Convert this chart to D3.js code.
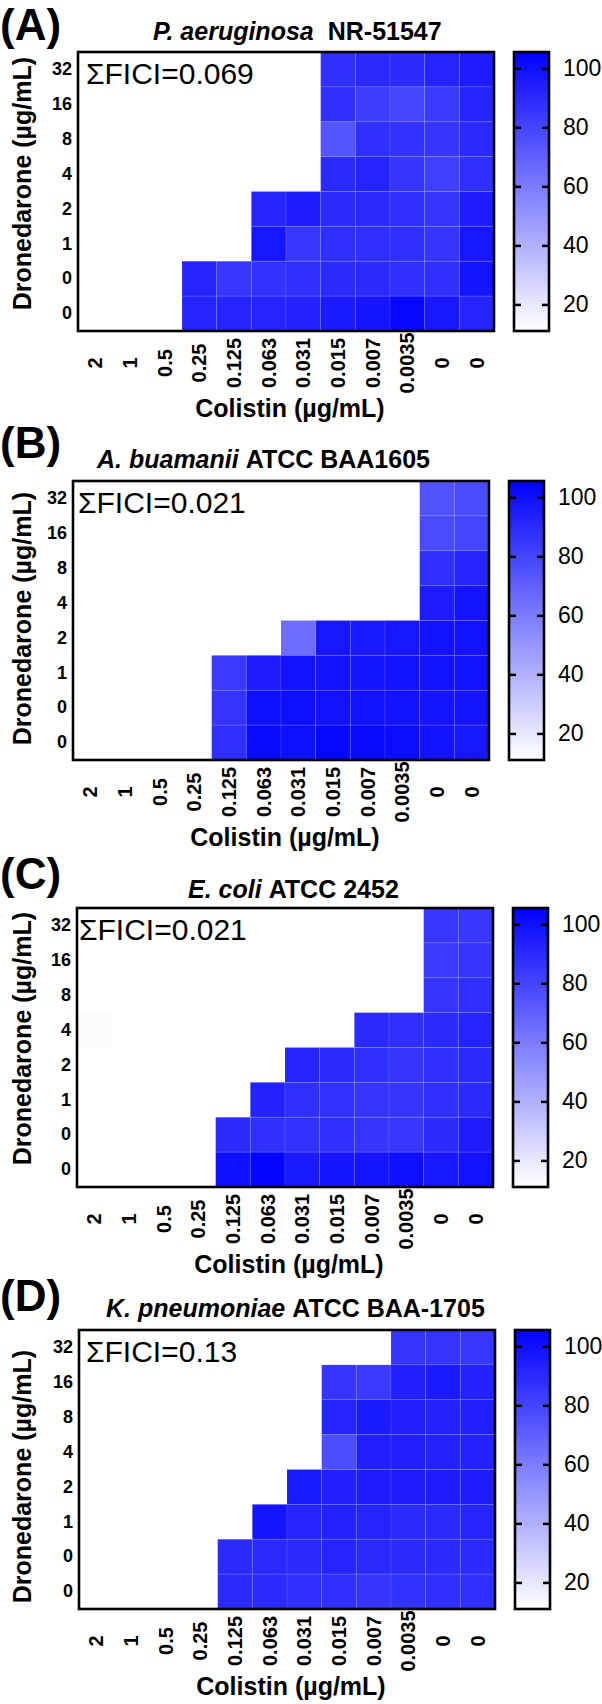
<!DOCTYPE html>
<html>
<head lang="en">
	<meta charset="UTF-8">
	<title>Checkerboard heatmaps</title>
	<style>
	body { margin: 0; background: #fff; }
	text { font-family: "Liberation Sans", Arial, Helvetica, sans-serif; }
	.frame { fill: none; stroke: #000; stroke-width: 2.6; }
	.axis path { display: none; }
	</style>
	<script src="https://cdn.jsdelivr.net/npm/d3@7"></script>
</head>
<body>
<script>
	// tick labels
	var colistin = ["2", "1", "0.5", "0.25", "0.125", "0.063", "0.031", "0.015", "0.007", "0.0035", "0", "0"];
	var dronedarone = ["32", "16", "8", "4", "2", "1", "0", "0"];
	var legendTicks = [20, 40, 60, 80, 100];
	var legendDomain = [11, 105.5];

	// % growth, rows top (32) to bottom (0), null = empty well
	var _ = null;
	var growthA = [
		[_, _, _, _, _, _, _, 88, 90, 90, 92, 95],
		[_, _, _, _, _, _, _, 88, 83, 80, 84, 92],
		[_, _, _, _, _, _, _, 74, 88, 87, 86, 90],
		[_, _, _, _, _, _, _, 90, 92, 86, 82, 88],
		[_, _, _, _, _, 92, 95, 90, 90, 88, 86, 95],
		[_, _, _, _, _, 97, 85, 88, 88, 88, 86, 97],
		[_, _, _, 92, 85, 87, 88, 90, 90, 88, 88, 98],
		[_, _, _, 92, 92, 92, 93, 96, 98, 103, 97, 92]
	];
	var growthB = [
		[_, _, _, _, _, _, _, _, _, _, 75, 78],
		[_, _, _, _, _, _, _, _, _, _, 78, 80],
		[_, _, _, _, _, _, _, _, _, _, 88, 92],
		[_, _, _, _, _, _, _, _, _, _, 95, 98],
		[_, _, _, _, _, _, 65, 97, 96, 97, 99, 99],
		[_, _, _, _, 84, 95, 99, 99, 98, 99, 99, 99],
		[_, _, _, _, 86, 100, 100, 99, 99, 99, 98, 98],
		[_, _, _, _, 88, 102, 100, 103, 102, 101, 99, 97]
	];
	var growthC = [
		[_, _, _, _, _, _, _, _, _, _, 85, 85],
		[_, _, _, _, _, _, _, _, _, _, 84, 86],
		[_, _, _, _, _, _, _, _, _, _, 86, 88],
		[12, _, _, _, _, _, _, _, 90, 88, 90, 92],
		[_, _, _, _, _, _, 92, 90, 88, 86, 88, 90],
		[_, _, _, _, _, 93, 88, 87, 86, 86, 88, 90],
		[_, _, _, _, 90, 88, 87, 88, 86, 85, 90, 95],
		[_, _, _, _, 100, 104, 96, 98, 98, 100, 97, 99]
	];
	var growthD = [
		[_, _, _, _, _, _, _, _, _, 86, 86, 85],
		[_, _, _, _, _, _, _, 86, 84, 94, 96, 93],
		[_, _, _, _, _, _, _, 92, 96, 94, 93, 94],
		[_, _, _, _, _, _, _, 77, 94, 94, 93, 93],
		[_, _, _, _, _, _, 96, 94, 95, 95, 95, 95],
		[_, _, _, _, _, 98, 92, 93, 92, 90, 90, 92],
		[_, _, _, _, 90, 90, 90, 92, 90, 90, 90, 90],
		[_, _, _, _, 90, 90, 88, 88, 86, 87, 88, 88]
	];

	var panelLetters = ["(A)", "(B)", "(C)", "(D)"];
	var species = ["P. aeruginosa", "A. buamanii", "E. coli", "K. pneumoniae"];
	var strains = ["NR-51547", "ATCC BAA1605", "ATCC 2452", "ATCC BAA-1705"];
	var fici = ["0.069", "0.021", "0.021", "0.13"];
	var growth = [growthA, growthB, growthC, growthD];

	// where each panel sits on the page
	var layout = [
		{left: 78, top: 52, letterY: 40, titleX: 153, titleY: 40, ficiX: 86, yTitleTop: 57},
		{left: 73, top: 481, letterY: 458, titleX: 97, titleY: 468, ficiX: 78, yTitleTop: 492},
		{left: 77, top: 908, letterY: 889, titleX: 188, titleY: 898, ficiX: 79, yTitleTop: 912},
		{left: 79, top: 1330, letterY: 1311, titleX: 106, titleY: 1317, ficiX: 86, yTitleTop: 1350}
	];

	var width = 602, height = 1704;
	var mapW = 416, mapH = 279;

	var color = d3.scaleLinear()
		.domain(legendDomain)
		.range(["#ffffff", "#0000ff"])
		.clamp(true);

	var svg = d3.select("body").append("svg")
		.attr("width", width)
		.attr("height", height);

	// gradient for the legend bars
	var grad = svg.append("defs").append("linearGradient")
		.attr("id", "legendGrad")
		.attr("x1", 0).attr("y1", 1).attr("x2", 0).attr("y2", 0);
	grad.selectAll("stop")
		.data(d3.range(0, 1.01, 0.1))
		.enter().append("stop")
		.attr("offset", function(t){ return t; })
		.attr("stop-color", function(t){ return color(legendDomain[0] + t * (legendDomain[1] - legendDomain[0])); });

	layout.forEach(function(p, k){
		var g = svg.append("g");
		var right = p.left + mapW, bottom = p.top + mapH;

		var x = d3.scaleBand().domain(d3.range(colistin.length)).range([p.left, right]);
		var y = d3.scaleBand().domain(d3.range(dronedarone.length)).range([p.top, bottom]);

		// panel letter
		g.append("text")
			.attr("x", 0).attr("y", p.letterY)
			.attr("font-size", 44).attr("font-weight", "bold")
			.text(panelLetters[k]);

		// title: italic species + strain
		var t = g.append("text")
			.attr("x", p.titleX).attr("y", p.titleY)
			.attr("font-size", 25).attr("font-weight", "bold");
		t.append("tspan").attr("font-style", "italic").text(species[k]);
		t.append("tspan").attr("dx", k == 0 ? 14 : 7).text(strains[k]);

		// cells
		var cells = [];
		growth[k].forEach(function(row, r){
			row.forEach(function(v, c){
				if (v !== null) cells.push({r: r, c: c, v: v});
			});
		});
		g.selectAll("rect.cell")
			.data(cells)
			.enter().append("rect")
			.attr("class", "cell")
			.attr("x", function(d){ return x(d.c); })
			.attr("y", function(d){ return y(d.r); })
			.attr("width", x.bandwidth())
			.attr("height", y.bandwidth())
			.attr("fill", function(d){ return color(d.v); })
			.attr("stroke", "rgba(255,255,255,0.1)")
			.attr("stroke-width", 1);

		g.append("rect")
			.attr("class", "frame")
			.attr("x", p.left).attr("y", p.top)
			.attr("width", mapW).attr("height", mapH);

		g.append("text")
			.attr("x", p.ficiX).attr("y", p.top + 32)
			.attr("font-size", 30)
			.text("\u03A3FICI=" + fici[k]);

		// y axis
		var ya = g.append("g")
			.attr("class", "axis")
			.attr("transform", "translate(" + p.left + ",0)")
			.call(d3.axisLeft(y).tickSize(0).tickPadding(6).tickFormat(function(i){ return dronedarone[i]; }));
		ya.selectAll("text")
			.attr("font-size", 18).attr("font-weight", "bold").attr("fill", "#000")
			.attr("font-family", null);

		// x axis, labels turned and centred under each column
		var xa = g.append("g")
			.attr("class", "axis")
			.attr("transform", "translate(0," + bottom + ")")
			.call(d3.axisBottom(x).tickSize(0).tickFormat(function(i){ return colistin[i]; }));
		xa.selectAll("text")
			.attr("x", 0).attr("y", 0).attr("dy", "0.35em")
			.attr("text-anchor", "middle")
			.attr("transform", "translate(0,32) rotate(-90)")
			.attr("font-size", 20).attr("font-weight", "bold").attr("fill", "#000")
			.attr("font-family", null);

		g.append("text")
			.attr("x", (p.left + right) / 2 + 4).attr("y", bottom + 86)
			.attr("text-anchor", "middle")
			.attr("font-size", 25).attr("font-weight", "bold")
			.text("Colistin (\u00B5g/mL)");

		g.append("text")
			.attr("transform", "translate(31," + p.yTitleTop + ") rotate(-90)")
			.attr("text-anchor", "end")
			.attr("font-size", 25).attr("font-weight", "bold")
			.text("Dronedarone (\u00B5g/mL)");

		// legend bar
		var lx = right + 20, lw = 35;
		var ly = d3.scaleLinear().domain(legendDomain).range([bottom, p.top]);
		g.append("rect")
			.attr("x", lx).attr("y", p.top)
			.attr("width", lw).attr("height", mapH)
			.attr("fill", "url(#legendGrad)");
		var la = g.append("g")
			.attr("transform", "translate(" + (lx + lw) + ",0)")
			.call(d3.axisRight(ly).tickValues(legendTicks).tickSize(-7).tickPadding(14));
		la.select(".domain").remove();
		la.selectAll("line").attr("stroke-width", 2.5);
		la.selectAll("text").attr("font-size", 23).attr("font-family", null).attr("fill", "#000");
		var lb = g.append("g")
			.attr("transform", "translate(" + lx + ",0)")
			.call(d3.axisLeft(ly).tickValues(legendTicks).tickSize(-7).tickFormat(""));
		lb.select(".domain").remove();
		lb.selectAll("line").attr("stroke-width", 2.5);
		g.append("rect")
			.attr("class", "frame")
			.attr("x", lx).attr("y", p.top)
			.attr("width", lw).attr("height", mapH);
	});
</script>
</body>
</html>
